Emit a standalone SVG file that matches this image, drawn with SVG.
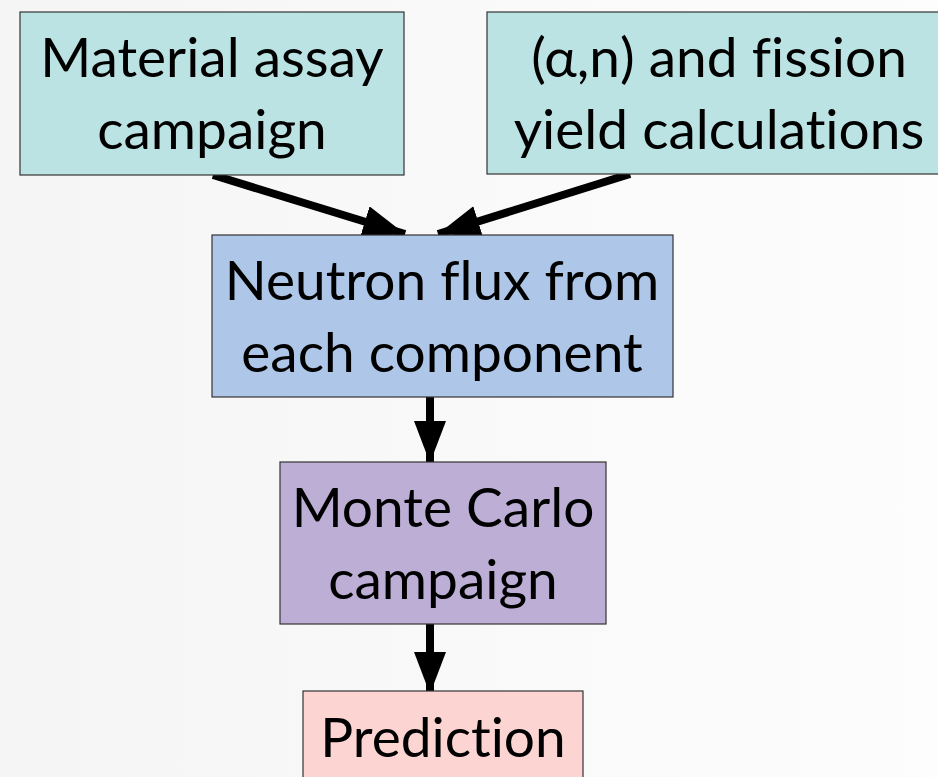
<svg xmlns="http://www.w3.org/2000/svg" width="938" height="777" viewBox="0 0 938 777">
<defs>
<linearGradient id="bg" x1="0" y1="0" x2="1" y2="0">
<stop offset="0" stop-color="#f5f5f5"/>
<stop offset="1" stop-color="#fdfdfd"/>
</linearGradient>
<marker id="ah" markerUnits="userSpaceOnUse" markerWidth="42" markerHeight="32" refX="42" refY="16" orient="auto" viewBox="0 0 42 32">
<path d="M0,0 L42,16 L0,32 Z" fill="#000"/>
</marker>
<style>
.box{stroke:#333;stroke-width:1.2}
.t{font-family:"Lato","Liberation Sans",sans-serif;font-size:55px;fill:#000;text-anchor:middle;font-variant-ligatures:none}
.c{stroke:#000;stroke-width:8;fill:none}
</style>
</defs>
<rect width="938" height="777" fill="url(#bg)"/>
<g id="connectors">
<line class="c" x1="213" y1="175" x2="405" y2="234" marker-end="url(#ah)"/>
<line class="c" x1="630" y1="174" x2="438" y2="234" marker-end="url(#ah)"/>
<line class="c" x1="430" y1="397" x2="430" y2="463" marker-end="url(#ah)"/>
<line class="c" x1="430" y1="624" x2="430" y2="694" marker-end="url(#ah)"/>
</g>
<g id="material">
<rect class="box" x="20" y="12" width="384" height="163" fill="#bce3e3"/>
<text class="t" x="212" y="77">Material assay</text>
<text class="t" x="212" y="149">campaign</text>
</g>
<g id="yield">
<rect class="box" x="487" y="12" width="470" height="162" fill="#bce3e3"/>
<text class="t" x="719" y="77">(α,n) and fission</text>
<text class="t" x="719" y="149">yield calculations</text>
</g>
<g id="flux">
<rect class="box" x="212" y="235" width="461" height="162" fill="#aec6e8"/>
<text class="t" x="442" y="300">Neutron flux from</text>
<text class="t" x="442" y="372">each component</text>
</g>
<g id="montecarlo">
<rect class="box" x="280" y="462" width="326" height="162" fill="#bdaed6"/>
<text class="t" x="443" y="527">Monte Carlo</text>
<text class="t" x="443" y="599">campaign</text>
</g>
<g id="prediction">
<rect class="box" x="303" y="691" width="280" height="100" fill="#fcd5d3"/>
<text class="t" x="443" y="757">Prediction</text>
</g>
</svg>
